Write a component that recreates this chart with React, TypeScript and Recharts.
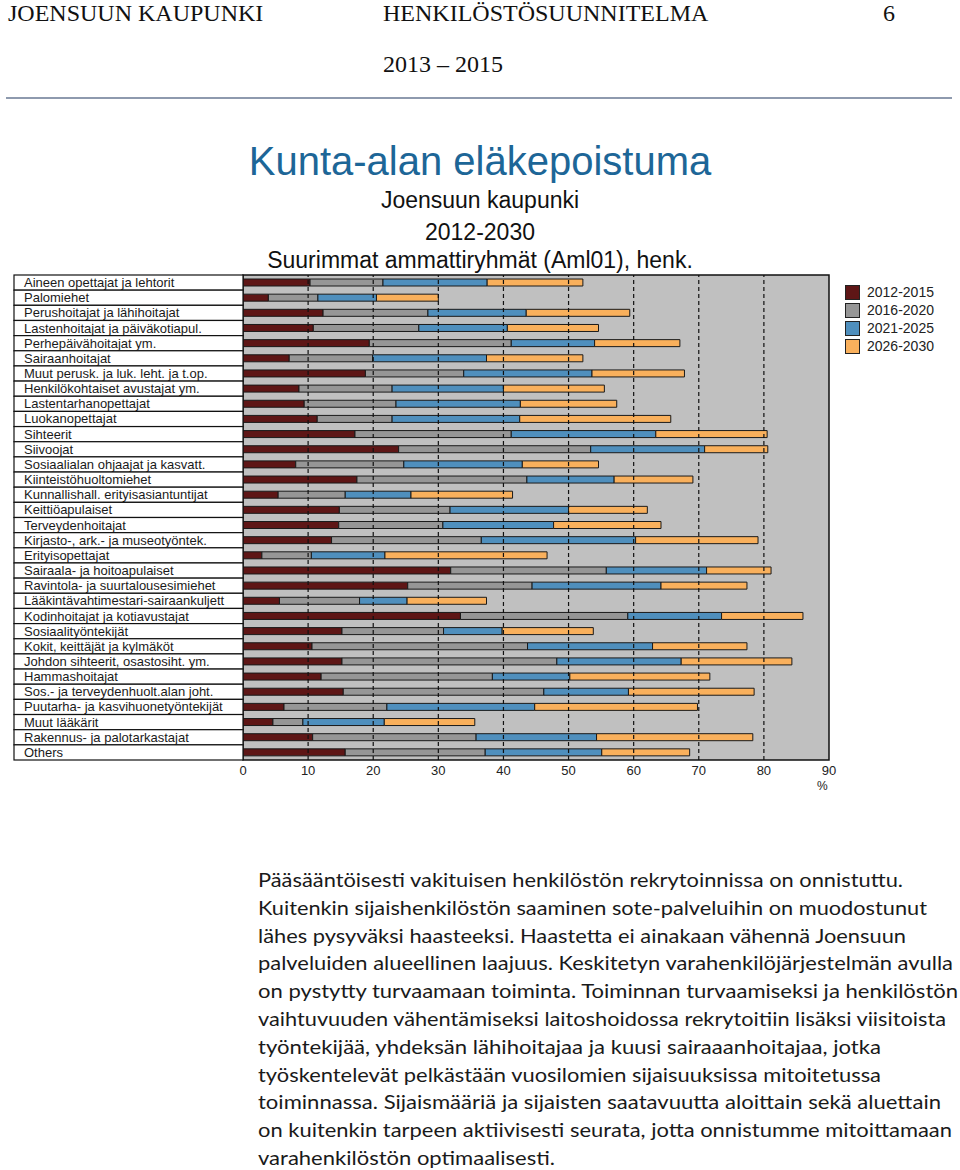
import React from "react";
import {
  BarChart,
  Bar,
  XAxis,
  YAxis,
  CartesianGrid,
  ReferenceLine,
  ReferenceArea,
} from "recharts";

// Occupational groups (top to bottom)
const groups = [
  "Aineen opettajat ja lehtorit",
  "Palomiehet",
  "Perushoitajat ja lähihoitajat",
  "Lastenhoitajat ja päiväkotiapul.",
  "Perhepäivähoitajat ym.",
  "Sairaanhoitajat",
  "Muut perusk. ja luk. leht. ja t.op.",
  "Henkilökohtaiset avustajat ym.",
  "Lastentarhanopettajat",
  "Luokanopettajat",
  "Sihteerit",
  "Siivoojat",
  "Sosiaalialan ohjaajat ja kasvatt.",
  "Kiinteistöhuoltomiehet",
  "Kunnallishall. erityisasiantuntijat",
  "Keittiöapulaiset",
  "Terveydenhoitajat",
  "Kirjasto-, ark.- ja museotyöntek.",
  "Erityisopettajat",
  "Sairaala- ja hoitoapulaiset",
  "Ravintola- ja suurtalousesimiehet",
  "Lääkintävahtimestari-sairaankuljett",
  "Kodinhoitajat ja kotiavustajat",
  "Sosiaalityöntekijät",
  "Kokit, keittäjät ja kylmäköt",
  "Johdon sihteerit, osastosiht. ym.",
  "Hammashoitajat",
  "Sos.- ja terveydenhuolt.alan joht.",
  "Puutarha-  ja kasvihuonetyöntekijät",
  "Muut lääkärit",
  "Rakennus- ja palotarkastajat",
  "Others",
];

// retirement share per period, %
const p2012 = [10.3, 3.9, 12.3, 10.8, 19.4, 7.1, 18.8, 8.6, 9.4, 11.4, 17.2, 23.9, 8.1, 17.5, 5.4, 14.8, 14.7, 13.6, 2.9, 31.9, 25.3, 5.6, 33.4, 15.2, 10.6, 15.2, 12.0, 15.4, 6.3, 4.6, 10.7, 15.7];
const p2016 = [11.2, 7.6, 16.1, 16.2, 21.8, 12.8, 15.1, 14.3, 14.1, 11.5, 24.0, 29.5, 16.6, 26.1, 10.3, 17.0, 16.0, 23.0, 7.6, 23.9, 19.1, 12.3, 25.7, 15.6, 33.1, 33.0, 26.3, 30.8, 15.8, 4.6, 25.1, 21.5];
const p2021 = [16.0, 9.0, 15.1, 13.6, 12.8, 17.5, 19.7, 17.1, 19.1, 19.6, 22.2, 17.5, 18.2, 13.4, 10.1, 18.2, 17.0, 23.7, 11.3, 15.4, 19.8, 7.3, 14.4, 9.0, 19.2, 19.1, 11.9, 13.0, 22.7, 12.5, 18.5, 17.9];
const p2026 = [14.7, 9.5, 15.9, 14.0, 13.1, 14.8, 14.2, 15.5, 14.8, 23.2, 17.1, 9.7, 11.7, 12.1, 15.6, 12.1, 16.5, 18.8, 24.9, 9.9, 13.2, 12.2, 12.5, 14.0, 14.5, 17.0, 21.5, 19.3, 25.0, 13.9, 24.0, 13.5];

const periods = ["2012-2015", "2016-2020", "2021-2025", "2026-2030"];
const colors = ["#5e1616", "#969696", "#4f8fbd", "#f9b05c"];
const gridValues = [10, 20, 30, 40, 50, 60, 70, 80];
const xTicks = [0, 10, 20, 30, 40, 50, 60, 70, 80, 90];

const data = groups.map((name, i) => ({
  name,
  a: p2012[i],
  b: p2016[i],
  c: p2021[i],
  d: p2026[i],
}));

const bodyLines: [string, number][] = [
  ["Pääsääntöisesti vakituisen henkilöstön rekrytoinnissa on onnistuttu.", 645],
  ["Kuitenkin sijaishenkilöstön saaminen sote-palveluihin on muodostunut", 669],
  ["lähes pysyväksi haasteeksi. Haastetta ei ainakaan vähennä Joensuun", 648],
  ["palveluiden alueellinen laajuus. Keskitetyn varahenkilöjärjestelmän avulla", 695],
  ["on pystytty turvaamaan toiminta. Toiminnan turvaamiseksi ja henkilöstön", 700],
  ["vaihtuvuuden vähentämiseksi laitoshoidossa rekrytoitiin lisäksi viisitoista", 688],
  ["työntekijää, yhdeksän lähihoitajaa ja kuusi sairaaanhoitajaa, jotka", 623],
  ["työskentelevät pelkästään vuosilomien sijaisuuksissa mitoitetussa", 623],
  ["toiminnassa. Sijaismääriä ja sijaisten saatavuutta aloittain sekä aluettain", 683],
  ["on kuitenkin tarpeen aktiivisesti seurata, jotta onnistumme mitoittamaan", 694],
  ["varahenkilöstön optimaalisesti.", 297],
];

const sans = "'Liberation Sans', Arial, sans-serif";
const serif = "'Liberation Serif', 'Times New Roman', serif";

const BAND = 485 / groups.length;

const GroupTick = (props: any) => {
  const { y, payload } = props;
  return (
    <g>
      <rect x={14} y={y - BAND / 2} width={229} height={BAND} fill="#fff" stroke="#111" strokeWidth={1.2} />
      <text x={24} y={y + 4.5} fontSize={13} fontFamily={sans} fill="#1a1a1a">
        {payload.value}
      </text>
    </g>
  );
};

const LegendBox = () => (
  <div style={{ position: "absolute", left: 845, top: 283, fontFamily: sans, fontSize: 14, color: "#222" }}>
    {periods.map((p, i) => (
      <div key={p} style={{ display: "flex", alignItems: "center", height: 18 }}>
        <span
          style={{
            display: "inline-block",
            width: 13,
            height: 13,
            background: colors[i],
            border: "1px solid #222",
            marginRight: 7,
          }}
        />
        {p}
      </div>
    ))}
  </div>
);

const App = () => {
  return (
    <div style={{ position: "absolute", left: 0, top: 0, width: 960, height: 1170, background: "#fff" }}>
      <svg width={960} height={1170} style={{ position: "absolute", left: 0, top: 0 }}>
        {/* page header */}
        <text x={8} y={21} fontFamily={serif} fontSize={24} fill="#111">JOENSUUN KAUPUNKI</text>
        <text x={383} y={21} fontFamily={serif} fontSize={24} fill="#111">HENKILÖSTÖSUUNNITELMA</text>
        <text x={883} y={21} fontFamily={serif} fontSize={24} fill="#111">6</text>
        <text x={383} y={72} fontFamily={serif} fontSize={24} fill="#111">2013 – 2015</text>
        <line x1={6} y1={98} x2={952} y2={98} stroke="#8e9aae" strokeWidth={2} />

        {/* chart titles */}
        <text x={480} y={175} textAnchor="middle" fontFamily={sans} fontSize={40} fill="#1d6697">
          Kunta-alan eläkepoistuma
        </text>
        <text x={480} y={208} textAnchor="middle" fontFamily={sans} fontSize={23} fill="#111">
          Joensuun kaupunki
        </text>
        <text x={480} y={240} textAnchor="middle" fontFamily={sans} fontSize={23} fill="#111">
          2012-2030
        </text>
        <text x={480} y={268} textAnchor="middle" fontFamily={sans} fontSize={23} fill="#111">
          Suurimmat ammattiryhmät (Aml01), henk.
        </text>
        <text x={817} y={790} fontFamily={sans} fontSize={12} fill="#222">%</text>

        {/* body text */}
        {bodyLines.map(([t, w], i) => (
          <text
            key={i}
            x={258}
            y={887 + i * 27.8}
            fontFamily="Lato, 'Open Sans', sans-serif"
            fontSize={20}
            fill="#1a1a1a"
            textLength={w}
            lengthAdjust="spacingAndGlyphs"
          >
            {t}
          </text>
        ))}
      </svg>

      <div style={{ position: "absolute", left: 0, top: 0 }}>
        <BarChart
          width={960}
          height={800}
          data={data}
          layout="vertical"
          margin={{ top: 275, right: 131, bottom: 10, left: 0 }}
          barSize={7}
        >
          <CartesianGrid horizontal={false} vertical={false} fill="#c0c0c0" />
          <XAxis
            type="number"
            domain={[0, 90]}
            ticks={xTicks}
            height={30}
            axisLine={false}
            tickLine={false}
            tickSize={0}
            tickMargin={6}
            tick={{ fontSize: 13, fontFamily: sans, fill: "#222" }}
          />
          <YAxis
            type="category"
            dataKey="name"
            width={243}
            interval={0}
            axisLine={false}
            tickLine={false}
            tick={<GroupTick />}
          />
          {gridValues.map((v) => (
            <ReferenceLine key={v} x={v} stroke="#111" strokeDasharray="4 3" strokeWidth={1.2} />
          ))}
          <Bar dataKey="a" stackId="s" fill={colors[0]} stroke="#1a1a1a" strokeWidth={1} isAnimationActive={false} />
          <Bar dataKey="b" stackId="s" fill={colors[1]} stroke="#1a1a1a" strokeWidth={1} isAnimationActive={false} />
          <Bar dataKey="c" stackId="s" fill={colors[2]} stroke="#1a1a1a" strokeWidth={1} isAnimationActive={false} />
          <Bar dataKey="d" stackId="s" fill={colors[3]} stroke="#1a1a1a" strokeWidth={1} isAnimationActive={false} />
          <ReferenceArea x1={0} x2={90} fill="none" stroke="#111" strokeWidth={1.5} fillOpacity={0} />
        </BarChart>
      </div>
      <LegendBox />
    </div>
  );
};

export default App;
